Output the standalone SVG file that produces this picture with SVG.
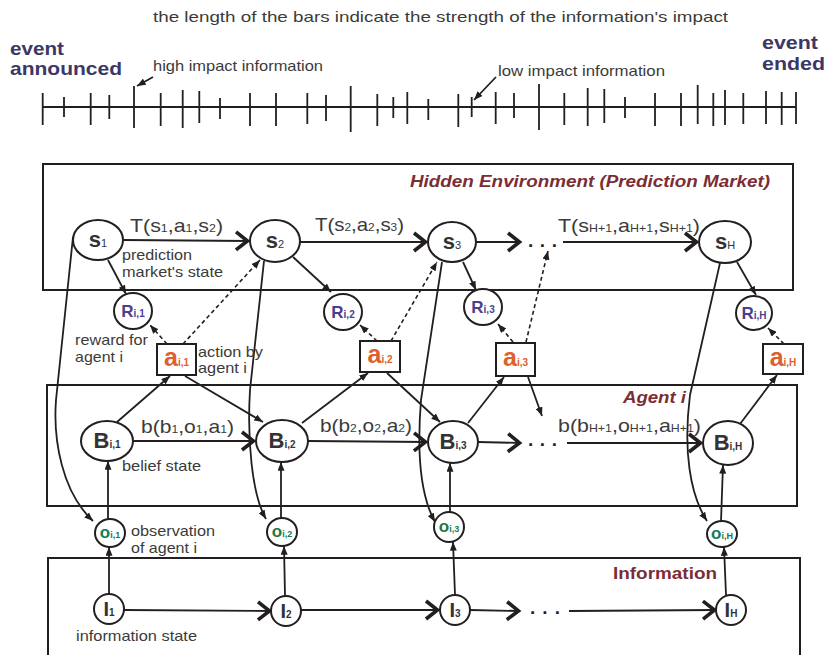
<svg xmlns="http://www.w3.org/2000/svg" width="827" height="655" viewBox="0 0 827 655">
<style>
text{font-family:"Liberation Sans",Arial,Helvetica,sans-serif;fill:#3b3b3b}
.lbl{font-size:15px}
.fn{font-size:19px}
.sub{font-size:11px}
.nd{font-weight:bold;text-anchor:middle}
.box{fill:none;stroke:#231f20;stroke-width:2}
.node{fill:#fff;stroke:#231f20;stroke-width:2}
.c{fill:none;stroke:#231f20;stroke-width:1.8}
.d{fill:none;stroke:#231f20;stroke-width:1.6;stroke-dasharray:4 3}
.tick{stroke:#231f20;stroke-width:1.8}
.title{font-weight:bold;font-style:italic;fill:#7b2d35;font-size:16px}
.upright{font-style:normal}
.ev{font-weight:bold;fill:#3d3766;font-size:19px}
.dots{font-weight:bold;font-size:19px;fill:#231f20}
.sn{fill:#333}
.rn{fill:#4a3f8f}
.an{fill:#e0602c}
.on{fill:#1a7a50}
</style>
<defs>
<marker id="chev" markerUnits="userSpaceOnUse" viewBox="-16 -12 18 24" refX="0" refY="0" markerWidth="18" markerHeight="24" orient="auto">
<path d="M-13,-9 L-1.5,0 L-13,9" fill="none" stroke="#231f20" stroke-width="3.6"/>
</marker>
<marker id="arr" markerUnits="userSpaceOnUse" viewBox="0 0 10 8" refX="10" refY="4" markerWidth="9" markerHeight="7" orient="auto">
<path d="M0,0 L10,4 L0,8 z" fill="#231f20"/>
</marker>
</defs>

<!-- header / timeline -->
<g id="timeline">
<text class="lbl" x="153" y="22" font-size="16" textLength="575" lengthAdjust="spacingAndGlyphs">the length of the bars indicate the strength of the information's impact</text>
<text class="ev" x="10" y="55" textLength="54" lengthAdjust="spacingAndGlyphs">event</text>
<text class="ev" x="10" y="75" textLength="112" lengthAdjust="spacingAndGlyphs">announced</text>
<text class="ev" x="762" y="49" textLength="56" lengthAdjust="spacingAndGlyphs">event</text>
<text class="ev" x="762" y="70" textLength="63" lengthAdjust="spacingAndGlyphs">ended</text>
<text class="lbl" x="153" y="71" textLength="170" lengthAdjust="spacingAndGlyphs">high impact information</text>
<text class="lbl" x="498" y="76" textLength="167" lengthAdjust="spacingAndGlyphs">low impact information</text>
<path class="c" d="M153,77 L137,86" marker-end="url(#arr)" stroke-width="1.3"/>
<path class="c" d="M496,77 L474,100" marker-end="url(#arr)" stroke-width="1.3"/>
<path class="tick" d="M43,107 H796"/>
<path class="tick" d="M42.7,93V125 M64,97V117 M90.7,93V125 M109.3,95V119 M134,86V128 M160.7,93V126 M182.7,90V128 M199.3,91V123 M220,98V119 M250,93V126 M276,93V126 M307.3,93V124 M326,95V121 M350.7,86V132 M377.3,94V126 M393.3,97V118 M407.3,92V124 M428.3,99V120 M458.3,94V127 M471.7,97V117 M495.7,92V124 M514,93V118 M539,84V130 M564.3,93V125 M587.7,88V126 M604.3,89V123 M625,97V118 M655,93V126 M681,93V126 M697.7,85V124 M713.3,93V126 M725,90V125 M743.3,93V124 M766,91V124 M781.7,92V125 M796,92V124"/>
</g>

<!-- containers -->
<g id="hidden-environment">
<rect class="box" x="43" y="164" width="750" height="126"/>
<text class="title" x="410" y="187" textLength="360" lengthAdjust="spacingAndGlyphs">Hidden Environment (Prediction Market)</text>
</g>
<g id="agent-box">
<rect class="box" x="47" y="385" width="750" height="121"/>
<text class="title" x="623" y="403" font-size="17" textLength="63" lengthAdjust="spacingAndGlyphs">Agent i</text>
</g>
<g id="information-box">
<path class="box" d="M48,660 V558 H800 V660"/>
<text class="title upright" x="613" y="579" textLength="104" lengthAdjust="spacingAndGlyphs">Information</text>
</g>

<!-- connectors -->
<g id="connectors">
<!-- state chain -->
<path class="c" d="M123,240 L249,241" marker-end="url(#chev)"/>
<path class="c" d="M300,242 L427,242" marker-end="url(#chev)"/>
<path class="c" d="M476,242 L521,242" marker-end="url(#chev)"/>
<path class="c" d="M563,242 L698,242" marker-end="url(#chev)"/>
<text class="dots" x="528" y="247" textLength="29" lengthAdjust="spacing">. . .</text>
<!-- belief chain -->
<path class="c" d="M133,441 L255,441" marker-end="url(#chev)"/>
<path class="c" d="M308,441 L427,442" marker-end="url(#chev)"/>
<path class="c" d="M478,442 L521,443" marker-end="url(#chev)"/>
<path class="c" d="M567,443 L702,443" marker-end="url(#chev)"/>
<text class="dots" x="528" y="446" textLength="29" lengthAdjust="spacing">. . .</text>
<!-- information chain -->
<path class="c" d="M124,610 L271,611" marker-end="url(#chev)"/>
<path class="c" d="M301,610 L439,610" marker-end="url(#chev)"/>
<path class="c" d="M470,610 L520,611" marker-end="url(#chev)"/>
<path class="c" d="M569,611 L716,610" marker-end="url(#chev)"/>
<text class="dots" x="530" y="614" textLength="30" lengthAdjust="spacing">. . .</text>
<!-- state -> reward -->
<path class="c" d="M108,260 L126,294" marker-end="url(#arr)"/>
<path class="c" d="M293,257 L331,292" marker-end="url(#arr)"/>
<path class="c" d="M463,262 L476,290" marker-end="url(#arr)"/>
<path class="c" d="M737,262 L756,295" marker-end="url(#arr)"/>
<!-- action -> reward / next state (dashed) -->
<path class="d" d="M167,344 L150,325" marker-end="url(#arr)"/>
<path class="d" d="M183,344 L260,260" marker-end="url(#arr)"/>
<path class="d" d="M377,341 L360,325" marker-end="url(#arr)"/>
<path class="d" d="M391,341 L437,262" marker-end="url(#arr)"/>
<path class="d" d="M513,342 L498,324" marker-end="url(#arr)"/>
<path class="d" d="M526,342 L548,251" marker-end="url(#arr)"/>
<path class="d" d="M784,344 L768,328" marker-end="url(#arr)"/>
<!-- belief <-> action -->
<path class="c" d="M117,422 L170,376" marker-end="url(#arr)"/>
<path class="c" d="M185,376 L263,422" marker-end="url(#arr)"/>
<path class="c" d="M302,423 L368,373" marker-end="url(#arr)"/>
<path class="c" d="M387,373 L440,422" marker-end="url(#arr)"/>
<path class="c" d="M468,423 L504,377" marker-end="url(#arr)"/>
<path class="c" d="M528,377 L542,416" marker-end="url(#arr)"/>
<path class="c" d="M740,424 L777,375" marker-end="url(#arr)"/>
<!-- observation -> belief -->
<path class="c" d="M108,519 L108,461" marker-end="url(#arr)"/>
<path class="c" d="M281,518 L281,462" marker-end="url(#arr)"/>
<path class="c" d="M450,512 L450,463" marker-end="url(#arr)"/>
<path class="c" d="M721,521 L723,465" marker-end="url(#arr)"/>
<!-- information -> observation -->
<path class="c" d="M109,594 L109,547" marker-end="url(#arr)"/>
<path class="c" d="M285,596 L284,546" marker-end="url(#arr)"/>
<path class="c" d="M455,595 L453,542" marker-end="url(#arr)"/>
<path class="c" d="M726,595 L724,547" marker-end="url(#arr)"/>
<!-- state -> observation (curved) -->
<path class="c" d="M73,237 L56,400 C53,440 62,492 93,521" marker-end="url(#arr)"/>
<path class="c" d="M264,261 L250,390 C247,440 252,495 266,519" marker-end="url(#arr)"/>
<path class="c" d="M442,262 L421,400 C417,450 420,495 435,522" marker-end="url(#arr)"/>
<path class="c" d="M720,263 L690,395 C683,450 690,495 707,521" marker-end="url(#arr)"/>
</g>

<!-- connector labels -->
<g id="labels">
<text class="fn" x="130" y="232" textLength="93" lengthAdjust="spacingAndGlyphs">T(s<tspan class="sub">1</tspan>,a<tspan class="sub">1</tspan>,s<tspan class="sub">2</tspan>)</text>
<text class="fn" x="315" y="231" textLength="89" lengthAdjust="spacingAndGlyphs">T(s<tspan class="sub">2</tspan>,a<tspan class="sub">2</tspan>,s<tspan class="sub">3</tspan>)</text>
<text class="fn" x="558" y="232" textLength="142" lengthAdjust="spacingAndGlyphs">T(s<tspan class="sub">H+1</tspan>,a<tspan class="sub">H+1</tspan>,s<tspan class="sub">H+1</tspan>)</text>
<text class="fn" x="141" y="433" textLength="93" lengthAdjust="spacingAndGlyphs">b(b<tspan class="sub">1</tspan>,o<tspan class="sub">1</tspan>,a<tspan class="sub">1</tspan>)</text>
<text class="fn" x="320" y="432" textLength="92" lengthAdjust="spacingAndGlyphs">b(b<tspan class="sub">2</tspan>,o<tspan class="sub">2</tspan>,a<tspan class="sub">2</tspan>)</text>
<text class="fn" x="558" y="432" textLength="143" lengthAdjust="spacingAndGlyphs">b(b<tspan class="sub">H+1</tspan>,o<tspan class="sub">H+1</tspan>,a<tspan class="sub">H+1</tspan>)</text>
<text class="lbl" x="122" y="260" textLength="70" lengthAdjust="spacingAndGlyphs">prediction</text>
<text class="lbl" x="122" y="277" textLength="101" lengthAdjust="spacingAndGlyphs">market's state</text>
<text class="lbl" x="75" y="345" textLength="73" lengthAdjust="spacingAndGlyphs">reward for</text>
<text class="lbl" x="75" y="362" textLength="48" lengthAdjust="spacingAndGlyphs">agent i</text>
<text class="lbl" x="198" y="357" textLength="65" lengthAdjust="spacingAndGlyphs">action by</text>
<text class="lbl" x="198" y="373" textLength="49" lengthAdjust="spacingAndGlyphs">agent i</text>
<text class="lbl" x="122" y="471" textLength="79" lengthAdjust="spacingAndGlyphs">belief state</text>
<text class="lbl" x="131" y="536" textLength="84" lengthAdjust="spacingAndGlyphs">observation</text>
<text class="lbl" x="131" y="553" textLength="66" lengthAdjust="spacingAndGlyphs">of agent i</text>
<text class="lbl" x="76" y="641" textLength="121" lengthAdjust="spacingAndGlyphs">information state</text>
</g>

<!-- state nodes -->
<g id="s1"><ellipse class="node" cx="98" cy="240" rx="25" ry="20"/><text class="nd sn" x="98" y="247" font-size="22">s<tspan font-size="11" font-weight="normal">1</tspan></text></g>
<g id="s2"><ellipse class="node" cx="275" cy="241" rx="25" ry="21"/><text class="nd sn" x="275" y="248" font-size="22">s<tspan font-size="11" font-weight="normal">2</tspan></text></g>
<g id="s3"><ellipse class="node" cx="452" cy="242" rx="24" ry="20"/><text class="nd sn" x="452" y="249" font-size="22">s<tspan font-size="11" font-weight="normal">3</tspan></text></g>
<g id="sH"><ellipse class="node" cx="725" cy="242" rx="26" ry="21"/><text class="nd sn" x="725" y="249" font-size="22">s<tspan font-size="11" font-weight="normal">H</tspan></text></g>

<!-- reward nodes -->
<g id="R1"><ellipse class="node" cx="133" cy="311" rx="19" ry="18"/><text class="nd rn" x="133" y="317" font-size="17">R<tspan font-size="10">i,1</tspan></text></g>
<g id="R2"><ellipse class="node" cx="343" cy="312" rx="19" ry="18"/><text class="nd rn" x="343" y="318" font-size="17">R<tspan font-size="10">i,2</tspan></text></g>
<g id="R3"><ellipse class="node" cx="483" cy="307" rx="19" ry="18"/><text class="nd rn" x="483" y="313" font-size="17">R<tspan font-size="10">i,3</tspan></text></g>
<g id="RH"><ellipse class="node" cx="754" cy="313" rx="18" ry="17"/><text class="nd rn" x="754" y="319" font-size="17">R<tspan font-size="10">i,H</tspan></text></g>

<!-- action nodes -->
<g id="a1"><rect class="node" x="157" y="344" width="39" height="31"/><text class="nd an" x="176.5" y="366" font-size="25">a<tspan font-size="10">i,1</tspan></text></g>
<g id="a2"><rect class="node" x="360" y="341" width="40" height="31"/><text class="nd an" x="380" y="363" font-size="25">a<tspan font-size="10">i,2</tspan></text></g>
<g id="a3"><rect class="node" x="496" y="343" width="39" height="33"/><text class="nd an" x="515.5" y="366" font-size="25">a<tspan font-size="10">i,3</tspan></text></g>
<g id="aH"><rect class="node" x="763" y="344" width="40" height="30"/><text class="nd an" x="783" y="366" font-size="25">a<tspan font-size="10">i,H</tspan></text></g>

<!-- belief nodes -->
<g id="B1"><ellipse class="node" cx="107" cy="441" rx="26" ry="20"/><text class="nd sn" x="107" y="448" font-size="22">B<tspan font-size="10">i,1</tspan></text></g>
<g id="B2"><ellipse class="node" cx="282" cy="441" rx="26" ry="21"/><text class="nd sn" x="282" y="448" font-size="22">B<tspan font-size="10">i,2</tspan></text></g>
<g id="B3"><ellipse class="node" cx="453" cy="442" rx="25" ry="21"/><text class="nd sn" x="453" y="449" font-size="22">B<tspan font-size="10">i,3</tspan></text></g>
<g id="BH"><ellipse class="node" cx="728" cy="443" rx="25" ry="22"/><text class="nd sn" x="728" y="450" font-size="22">B<tspan font-size="10">i,H</tspan></text></g>

<!-- observation nodes -->
<g id="o1"><ellipse class="node" cx="110" cy="533" rx="15" ry="14"/><text class="nd on" x="110" y="538" font-size="17">o<tspan font-size="9">i,1</tspan></text></g>
<g id="o2"><ellipse class="node" cx="282" cy="532" rx="15" ry="14"/><text class="nd on" x="282" y="537" font-size="17">o<tspan font-size="9">i,2</tspan></text></g>
<g id="o3"><ellipse class="node" cx="449" cy="527" rx="15" ry="15"/><text class="nd on" x="449" y="532" font-size="17">o<tspan font-size="9">i,3</tspan></text></g>
<g id="oH"><ellipse class="node" cx="722" cy="534" rx="15" ry="13"/><text class="nd on" x="722" y="539" font-size="17">o<tspan font-size="9">i,H</tspan></text></g>

<!-- information nodes -->
<g id="I1"><ellipse class="node" cx="109" cy="609" rx="15" ry="15"/><text class="nd sn" x="109" y="616" font-size="20">I<tspan font-size="10">1</tspan></text></g>
<g id="I2"><ellipse class="node" cx="286" cy="611" rx="15" ry="15"/><text class="nd sn" x="286" y="618" font-size="20">I<tspan font-size="10">2</tspan></text></g>
<g id="I3"><ellipse class="node" cx="455" cy="610" rx="15" ry="15"/><text class="nd sn" x="455" y="617" font-size="20">I<tspan font-size="10">3</tspan></text></g>
<g id="IH"><ellipse class="node" cx="731" cy="610" rx="15" ry="15"/><text class="nd sn" x="731" y="617" font-size="20">I<tspan font-size="10">H</tspan></text></g>
</svg>
